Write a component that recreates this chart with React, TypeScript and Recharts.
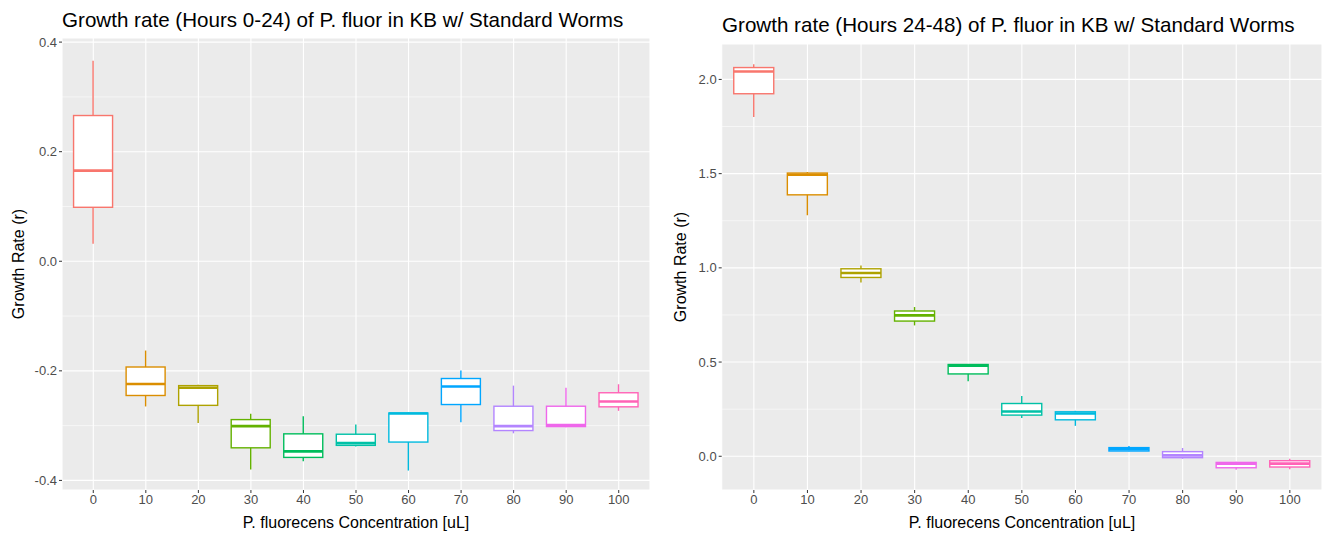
import React from "react";
import { Bar, CartesianGrid, ComposedChart, XAxis, YAxis } from "recharts";

const concentrations = ["0", "10", "20", "30", "40", "50", "60", "70", "80", "90", "100"];
const boxColors = ["#F8766D", "#DB8E00", "#AEA200", "#64B200", "#00BD5C", "#00C1A7", "#00BADE", "#00A6FF", "#B385FF", "#EF67EB", "#FF63B6"];

// hours 0-24
const earlyMin = [0.032, -0.265, -0.295, -0.38, -0.365, -0.338, -0.382, -0.294, -0.314, -0.303, -0.273];
const earlyQ1 = [0.0985, -0.245, -0.263, -0.3405, -0.358, -0.336, -0.33, -0.2615, -0.309, -0.3017, -0.2657];
const earlyMedian = [0.1655, -0.224, -0.231, -0.301, -0.347, -0.332, -0.278, -0.2286, -0.301, -0.299, -0.256];
const earlyQ3 = [0.266, -0.193, -0.227, -0.289, -0.315, -0.3157, -0.277, -0.214, -0.2646, -0.2646, -0.24];
const earlyMax = [0.366, -0.163, -0.2256, -0.2785, -0.283, -0.298, -0.276, -0.1995, -0.227, -0.231, -0.2245];
const earlyTicks = [-0.4, -0.2, 0, 0.2, 0.4];
const earlyMinor = [-0.3, -0.1, 0.1, 0.3];

// hours 24-48
const lateMin = [1.8, 1.279, 0.922, 0.6946, 0.398, 0.2025, 0.1615, 0.027, -0.013, -0.0714, -0.069];
const lateQ1 = [1.924, 1.3875, 0.949, 0.7175, 0.437, 0.2185, 0.1935, 0.028, -0.0075, -0.061, -0.057];
const lateMedian = [2.042, 1.494, 0.973, 0.748, 0.481, 0.238, 0.227, 0.037, 0.005, -0.0394, -0.039];
const lateQ3 = [2.063, 1.503, 0.995, 0.771, 0.487, 0.28, 0.236, 0.046, 0.0245, -0.0326, -0.0235];
const lateMax = [2.08, 1.5085, 1.0128, 0.792, 0.487, 0.32, 0.2415, 0.055, 0.044, -0.029, -0.013];
const lateTicks = [0, 0.5, 1, 1.5, 2];
const lateMinor = [0.25, 0.75, 1.25, 1.75];

interface Row {
  conc: string;
  range: [number, number];
  q1: number;
  median: number;
  q3: number;
}

function buildRows(min: number[], q1: number[], median: number[], q3: number[], max: number[]): Row[] {
  return concentrations.map((conc, i) => ({
    conc,
    range: [min[i], max[i]],
    q1: q1[i],
    median: median[i],
    q3: q3[i],
  }));
}

const makeBoxShape = (rows: Row[]) => (props: any) => {
  const { x, y, width, height, index } = props;
  const row = rows[index];
  if (!row) return <g />;
  const [lo, hi] = row.range;
  const top = Math.min(y, y + height);
  const bottom = Math.max(y, y + height);
  const span = hi - lo || 1;
  const py = (v: number) => top + ((bottom - top) * (hi - v)) / span;
  const cx = x + width / 2;
  const color = boxColors[index];
  return (
    <g>
      <line x1={cx} x2={cx} y1={top} y2={bottom} stroke={color} strokeWidth={1.4} />
      <rect x={x} y={py(row.q3)} width={width} height={Math.max(py(row.q1) - py(row.q3), 0.5)} fill="#fff" stroke={color} strokeWidth={1.4} />
      <line x1={x} x2={x + width} y1={py(row.median)} y2={py(row.median)} stroke={color} strokeWidth={2.6} />
    </g>
  );
};

interface PanelProps {
  rows: Row[];
  domain: [number, number];
  ticks: number[];
  minor: number[];
  width: number;
  margin: { top: number; right: number; bottom: number; left: number };
  pad: number;
}

function BoxPanel({ rows, domain, ticks, minor, width, margin, pad }: PanelProps) {
  return (
    <ComposedChart width={width} height={533} data={rows} margin={margin} barCategoryGap="12.5%">
      <CartesianGrid fill="#EBEBEB" stroke="#fff" strokeWidth={1.1} />
      <CartesianGrid horizontalValues={minor} vertical={false} stroke="#fff" strokeWidth={0.55} />
      <XAxis
        dataKey="conc"
        padding={{ left: pad, right: pad }}
        axisLine={false}
        tickSize={3}
        tickLine={{ stroke: "#333" }}
        tick={{ fill: "#4D4D4D", fontSize: 13 }}
        height={30}
      />
      <YAxis
        type="number"
        domain={domain}
        ticks={ticks}
        allowDataOverflow
        interval={0}
        tickFormatter={(v: number) => v.toFixed(1)}
        axisLine={false}
        tickSize={3}
        tickLine={{ stroke: "#333" }}
        tick={{ fill: "#4D4D4D", fontSize: 13 }}
        width={30}
      />
      <Bar dataKey="range" shape={makeBoxShape(rows)} isAnimationActive={false} />
    </ComposedChart>
  );
}

const earlyRows = buildRows(earlyMin, earlyQ1, earlyMedian, earlyQ3, earlyMax);
const lateRows = buildRows(lateMin, lateQ1, lateMedian, lateQ3, lateMax);

export default function App() {
  const font = "'Liberation Sans', Arial, Helvetica, sans-serif";
  return (
    <div style={{ position: "absolute", left: 0, top: 0, width: 1323, height: 533, background: "#fff", fontFamily: font }}>
      <div style={{ position: "absolute", left: 0, top: 0 }}>
        <BoxPanel
          rows={earlyRows}
          domain={[-0.4175, 0.4075]}
          ticks={earlyTicks}
          minor={earlyMinor}
          width={660}
          margin={{ top: 38, right: 10, bottom: 13, left: 32 }}
          pad={5}
        />
      </div>
      <div style={{ position: "absolute", left: 660, top: 0 }}>
        <BoxPanel
          rows={lateRows}
          domain={[-0.179, 2.188]}
          ticks={lateTicks}
          minor={lateMinor}
          width={663}
          margin={{ top: 44, right: 1, bottom: 13, left: 31.7 }}
          pad={5.35}
        />
      </div>
      <svg width={1323} height={533} style={{ position: "absolute", left: 0, top: 0, pointerEvents: "none", fontFamily: font }}>
        <text x={62} y={27} fontSize={20.6} fill="#000">Growth rate (Hours 0-24) of P. fluor in KB w/ Standard Worms</text>
        <text x={722} y={32} fontSize={20.6} fill="#000">Growth rate (Hours 24-48) of P. fluor in KB w/ Standard Worms</text>
        <text x={356} y={527.5} fontSize={16} textAnchor="middle" fill="#000">P. fluorecens Concentration [uL]</text>
        <text x={1022} y={527.5} fontSize={16} textAnchor="middle" fill="#000">P. fluorecens Concentration [uL]</text>
        <text transform="translate(24,264) rotate(-90)" fontSize={16} textAnchor="middle" fill="#000">Growth Rate (r)</text>
        <text transform="translate(686,267) rotate(-90)" fontSize={16} textAnchor="middle" fill="#000">Growth Rate (r)</text>
      </svg>
    </div>
  );
}
